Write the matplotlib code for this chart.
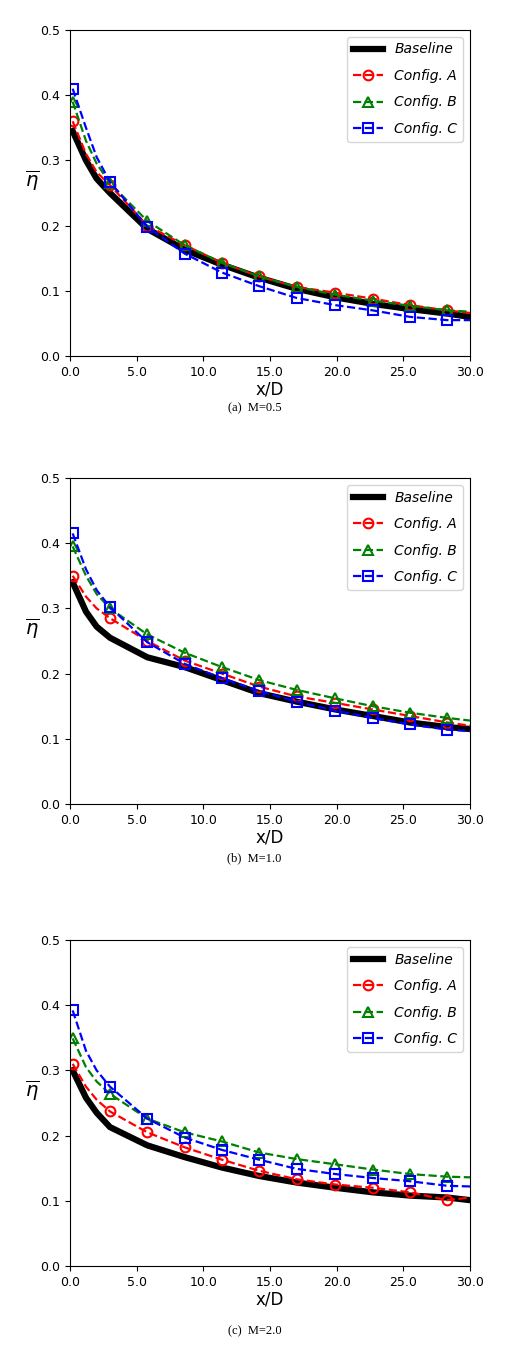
import matplotlib
matplotlib.use("Agg")
import matplotlib.pyplot as plt
from matplotlib.ticker import FormatStrFormatter

x = [0.2, 1.2, 2.0, 3.0, 5.8, 8.6, 11.4, 14.2, 17.0, 19.9, 22.7, 25.5, 28.3, 30.0]

base_a = [0.345, 0.30, 0.272, 0.25, 0.195, 0.163, 0.14, 0.12, 0.103, 0.09, 0.08, 0.072, 0.065, 0.06]
cfgA_a = [0.36, 0.31, 0.282, 0.262, 0.2, 0.17, 0.143, 0.122, 0.106, 0.097, 0.088, 0.078, 0.07, 0.066]
cfgB_a = [0.39, 0.33, 0.295, 0.265, 0.207, 0.17, 0.143, 0.122, 0.106, 0.094, 0.085, 0.077, 0.07, 0.068]
cfgC_a = [0.41, 0.35, 0.305, 0.267, 0.198, 0.157, 0.128, 0.107, 0.089, 0.078, 0.07, 0.06, 0.055, 0.055]

base_b = [0.34, 0.295, 0.272, 0.255, 0.225, 0.21, 0.19, 0.17, 0.157, 0.145, 0.135, 0.125, 0.118, 0.115]
cfgA_b = [0.35, 0.318, 0.30, 0.285, 0.25, 0.22, 0.2, 0.18, 0.165, 0.155, 0.145, 0.135, 0.125, 0.12]
cfgB_b = [0.395, 0.35, 0.322, 0.3, 0.26, 0.232, 0.21, 0.19, 0.175, 0.162, 0.15, 0.14, 0.132, 0.128]
cfgC_b = [0.415, 0.36, 0.328, 0.302, 0.248, 0.215, 0.193, 0.173, 0.157, 0.143, 0.132, 0.122, 0.114, 0.112]

base_c = [0.30, 0.258, 0.235, 0.213, 0.185, 0.167, 0.151, 0.138, 0.128, 0.12, 0.113, 0.108, 0.105, 0.101]
cfgA_c = [0.31, 0.275, 0.255, 0.237, 0.205, 0.182, 0.163, 0.146, 0.133, 0.125, 0.12, 0.113, 0.101, 0.105]
cfgB_c = [0.349, 0.305, 0.283, 0.264, 0.226, 0.205, 0.191, 0.174, 0.164, 0.156, 0.148, 0.141, 0.137, 0.136]
cfgC_c = [0.392, 0.33, 0.30, 0.275, 0.226, 0.197, 0.178, 0.163, 0.149, 0.141, 0.135, 0.130, 0.123, 0.122]

panels = [
    ((base_a, cfgA_a, cfgB_a, cfgC_a), "(a)  M=0.5"),
    ((base_b, cfgA_b, cfgB_b, cfgC_b), "(b)  M=1.0"),
    ((base_c, cfgA_c, cfgB_c, cfgC_c), "(c)  M=2.0"),
]
labels = ["Baseline", "Config. A", "Config. B", "Config. C"]
marks = [0, 3, 4, 5, 6, 7, 8, 9, 10, 11, 12]

W, H = 509, 1349
fig = plt.figure(figsize=(W / 100, H / 100), dpi=100)
tops = [30, 478, 940]
caps = [408, 858, 1331]
for (series, cap), top, cy in zip(panels, tops, caps):
    ax = fig.add_axes([70 / W, 1 - (top + 326) / H, 400 / W, 326 / H])
    b, a, bb, c = series
    ax.plot(x, b, color="black", lw=4.5, label=labels[0])
    for ys, col, mk, lab in [(a, "red", "o", labels[1]), (bb, "green", "^", labels[2]), (c, "blue", "s", labels[3])]:
        ax.plot(x, ys, "--", color=col, lw=1.6, marker=mk, ms=7, mfc="none", mew=1.5,
                markevery=marks, label=lab)
    ax.set_xlim(0, 30)
    ax.set_ylim(0, 0.5)
    ax.set_xticks([0, 5, 10, 15, 20, 25, 30])
    ax.set_yticks([0, 0.1, 0.2, 0.3, 0.4, 0.5])
    ax.xaxis.set_major_formatter(FormatStrFormatter("%.1f"))
    ax.yaxis.set_major_formatter(FormatStrFormatter("%.1f"))
    ax.tick_params(labelsize=9)
    ax.set_xlabel("x/D", fontsize=12, labelpad=1)
    ax.set_ylabel(r"$\overline{\eta}$", fontsize=14, rotation=0, labelpad=6)
    ax.legend(loc="upper right", prop={"style": "italic", "size": 10},
              handlelength=2.2, labelspacing=0.9)
    fig.text(0.5, 1 - cy / H, cap, ha="center", va="center", fontsize=9, family="Liberation Serif")

fig.savefig("out.png", dpi=100)
